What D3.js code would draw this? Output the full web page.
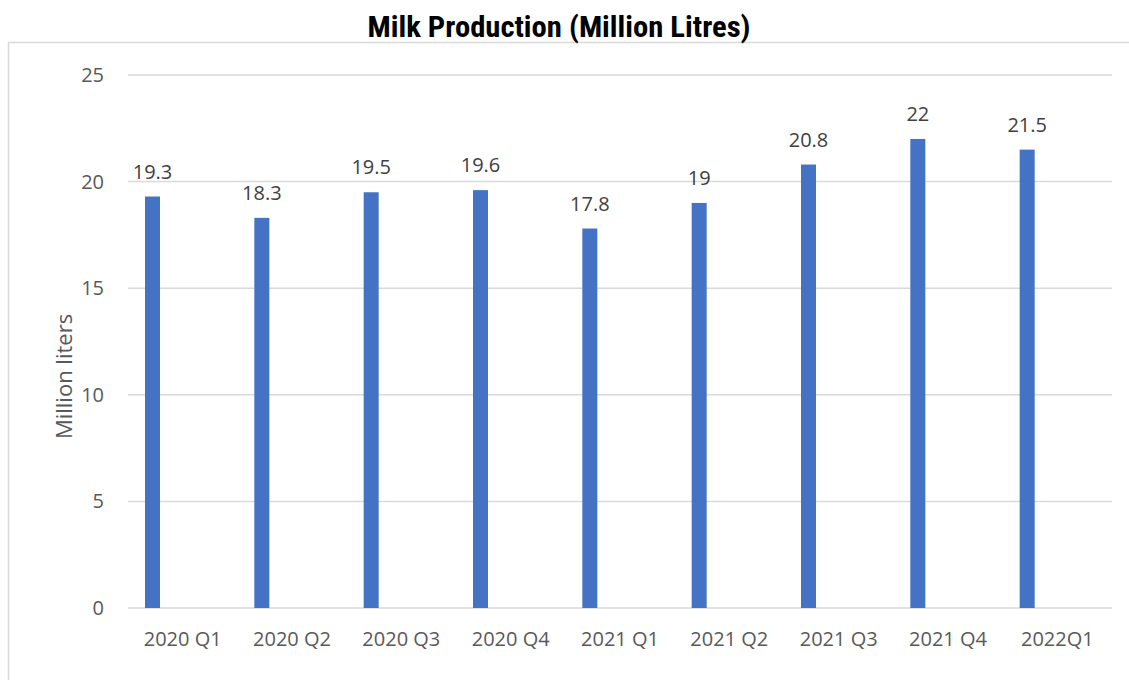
<!DOCTYPE html>
<html><head><meta charset="utf-8">
<script src="https://cdn.jsdelivr.net/npm/d3@7"></script>
<style>body{margin:0;background:#fff;} svg{display:block;}</style>
</head><body>
<svg id="c" width="1129" height="680"></svg>
<script>
const categories = ["2020 Q1","2020 Q2","2020 Q3","2020 Q4","2021 Q1","2021 Q2","2021 Q3","2021 Q4","2022Q1"];
const values = [19.3,18.3,19.5,19.6,17.8,19,20.8,22,21.5];
const yTicks = [0,5,10,15,20,25];
const title = "Milk Production (Million Litres)";
const yTitle = "Million liters";

const svg = d3.select("#c");
const pL = 128, pR = 1112, pT = 75, pB = 608;
const x = d3.scaleBand().domain(categories).range([pL, pR]);
const y = d3.scaleLinear().domain([0,25]).range([pB, pT]);

svg.append("rect").attr("x",8.5).attr("y",42.5).attr("width",1125).attr("height",700)
  .attr("fill","none").attr("stroke","#d9d9d9").attr("stroke-width",1.5);

svg.append("text").attr("x",559).attr("y",37).attr("text-anchor","middle")
  .attr("font-family","'Liberation Sans Narrow','Arial Narrow','Roboto Condensed',sans-serif")
  .attr("font-weight","bold").attr("font-size",30).attr("fill","#000")
  .attr("textLength",383).attr("lengthAdjust","spacingAndGlyphs").text(title);

const grid = svg.append("g");
grid.selectAll("line").data(yTicks).join("line")
  .attr("x1",pL).attr("x2",pR).attr("y1",d=>y(d)).attr("y2",d=>y(d))
  .attr("stroke","#d9d9d9").attr("stroke-width",1.5);

const yAxis = d3.axisLeft(y).tickValues(yTicks).tickSize(0).tickPadding(0);
const ya = svg.append("g").attr("transform",`translate(${pL-24},0)`).call(yAxis);
ya.select(".domain").remove();
ya.selectAll("text").attr("font-family","'Open Sans',sans-serif").attr("font-size",20).attr("fill","#595959");

const bw = 15;
svg.append("g").selectAll("rect").data(values).join("rect")
  .attr("x",(d,i)=>x(categories[i])+17).attr("width",bw)
  .attr("y",d=>y(d)).attr("height",d=>y(0)-y(d)).attr("fill","#4472C4");

svg.append("g").selectAll("text").data(values).join("text")
  .attr("x",(d,i)=>x(categories[i])+17+bw/2).attr("y",d=>y(d)-18)
  .attr("text-anchor","middle").attr("font-family","'Open Sans',sans-serif")
  .attr("font-size",20).attr("fill","#404040").text(d=>d);

const xAxis = d3.axisBottom(x).tickSize(0).tickPadding(0);
const xa = svg.append("g").attr("transform",`translate(0,${pB})`).call(xAxis);
xa.select(".domain").remove();
xa.selectAll("text").attr("dy",null).attr("y",38).attr("font-family","'Open Sans',sans-serif").attr("font-size",20).attr("fill","#595959");

svg.append("text").attr("transform",`translate(72,${(pT+pB)/2+35}) rotate(-90)`)
  .attr("text-anchor","middle").attr("font-family","'Open Sans',sans-serif")
  .attr("font-size",22).attr("fill","#595959").text(yTitle);
</script>
</body></html>
